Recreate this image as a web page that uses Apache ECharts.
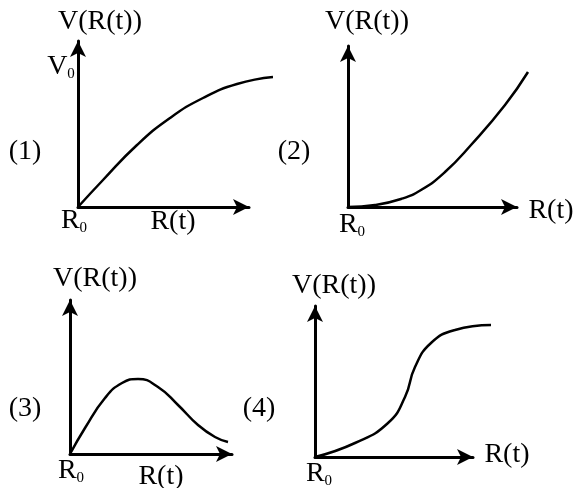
<!DOCTYPE html>
<html>
<head>
<meta charset="utf-8">
<script src="https://cdn.jsdelivr.net/npm/echarts@6/dist/echarts.min.js"></script>
<style>
  html, body { margin: 0; padding: 0; background: #fff; }
  #main { width: 576px; height: 488px; }
</style>
</head>
<body>
<div id="main"></div>
<script>
// curve samples, [R(t), V(R(t))] in arbitrary units from R0
var curve1 = [[0, 0], [25, 27], [59, 62], [92, 89], [125, 109], [159, 123], [195, 130]];
var curve2 = [[0, 0], [27, 2], [53, 8], [73, 17], [97, 35], [123, 62], [157, 102], [180, 135]];
var curve3 = [[0, 0], [15, 26], [35, 56], [52, 71], [68, 75], [88, 67], [108, 49], [128, 29], [145, 17], [158, 12]];
var curve4 = [[0, 0], [40, 14], [73, 34], [90, 60], [100, 90], [116, 114], [140, 127], [176, 132]];

var panelNames = ['(1)', '(2)', '(3)', '(4)'];
var yName = 'V(R(t))';
var xName = 'R(t)';

var FONT = 'Liberation Serif';
var ARROW = 16;
var EXTRA = 40; // curves run a bit past the arrow heads

// panels: origin and arrow tip positions
var panels = [
    { ox: 78, oy: 207, tipX: 257, tipY: 33, data: curve1 },
    { ox: 348, oy: 207, tipX: 525, tipY: 38, data: curve2 },
    { ox: 70, oy: 454, tipX: 240, tipY: 292, data: curve3 },
    { ox: 315, oy: 457, tipX: 481, tipY: 298, data: curve4 }
];

var grids = [], xAxes = [], yAxes = [], series = [];
var hidden = { show: false };
panels.forEach(function (p, i) {
    var w = p.tipX - p.ox - ARROW / 2;
    var h = p.oy - p.tipY - ARROW / 2;
    var axisLine = {
        show: true,
        symbol: ['none', 'arrow'],
        symbolSize: [12, ARROW],
        lineStyle: { color: '#000', width: 3 }
    };
    // grid with the arrow axes
    grids.push({ left: p.ox, top: p.oy - h, width: w, height: h });
    xAxes.push({
        type: 'value', gridIndex: 2 * i, min: 0, max: w,
        axisLine: axisLine, axisTick: hidden, axisLabel: hidden, splitLine: hidden
    });
    yAxes.push({
        type: 'value', gridIndex: 2 * i, min: 0, max: h,
        axisLine: axisLine, axisTick: hidden, axisLabel: hidden, splitLine: hidden
    });
    // same scale, a little wider, for the curve
    grids.push({ left: p.ox, top: p.oy - h, width: w + EXTRA, height: h });
    xAxes.push({ type: 'value', gridIndex: 2 * i + 1, min: 0, max: w + EXTRA, show: false });
    yAxes.push({ type: 'value', gridIndex: 2 * i + 1, min: 0, max: h, show: false });
    series.push({
        type: 'line', xAxisIndex: 2 * i + 1, yAxisIndex: 2 * i + 1,
        data: p.data, smooth: 0.5, showSymbol: false,
        lineStyle: { color: '#000', width: 2.5 }
    });
});

function txt(x, y, rich) {
    return {
        type: 'text', x: x, y: y,
        style: {
            text: rich, align: 'center', verticalAlign: 'middle',
            font: '28px "' + FONT + '"', fill: '#000',
            rich: {
                m: { fontFamily: FONT, fontSize: 28, lineHeight: 30, fill: '#000' },
                s: { fontFamily: FONT, fontSize: 15, lineHeight: 15, verticalAlign: 'bottom', fill: '#000' }
            }
        }
    };
}

var graphics = [
    // panel 1
    txt(100, 22, yName), txt(61, 67, '{m|V}{s|0}'), txt(74, 221, '{m|R}{s|0}'),
    txt(173, 222, xName), txt(25, 152, panelNames[0]),
    // panel 2
    txt(367, 22, yName), txt(352, 225, '{m|R}{s|0}'),
    txt(551, 211, xName), txt(294, 152, panelNames[1]),
    // panel 3
    txt(95, 279, yName), txt(71, 471, '{m|R}{s|0}'),
    txt(161, 477, xName), txt(25, 409, panelNames[2]), txt(259, 409, panelNames[3]),
    // panel 4
    txt(334, 286, yName), txt(319, 474, '{m|R}{s|0}'),
    txt(507, 455, xName)
];

var chart = echarts.init(document.getElementById('main'));
chart.setOption({
    backgroundColor: '#fff',
    animation: false,
    grid: grids,
    xAxis: xAxes,
    yAxis: yAxes,
    series: series,
    graphic: graphics
});
</script>
</body>
</html>
